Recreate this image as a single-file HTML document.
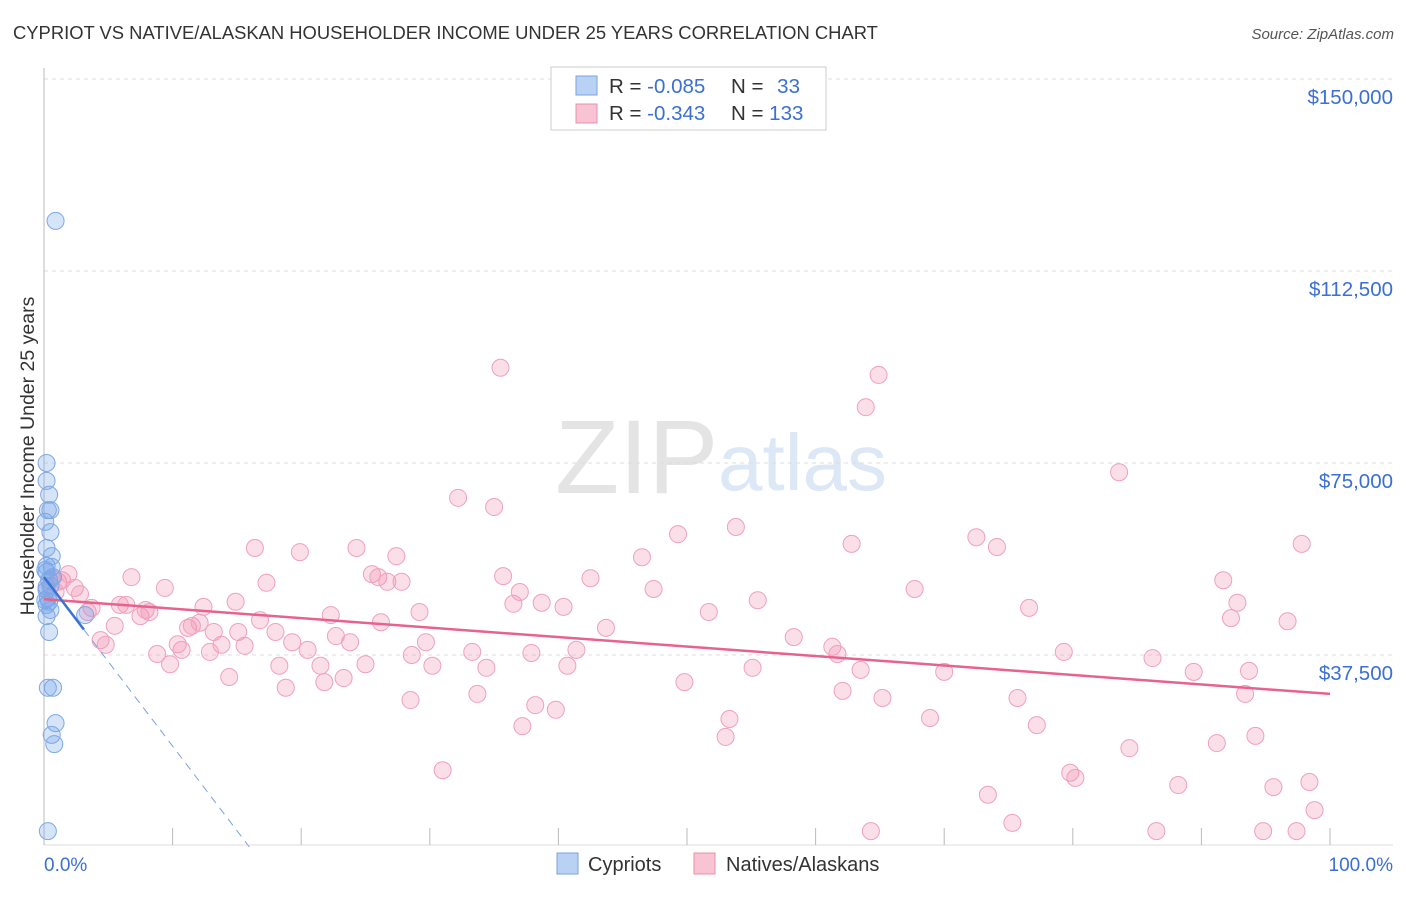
<!DOCTYPE html>
<html><head><meta charset="utf-8"><style>
body{margin:0;background:#fff;font-family:"Liberation Sans",sans-serif;}
svg text{font-family:"Liberation Sans",sans-serif;}
</style></head><body>
<svg id="chart" width="1406" height="892" xmlns="http://www.w3.org/2000/svg">
<text x="13" y="39" font-size="18.4" fill="#333">CYPRIOT VS NATIVE/ALASKAN HOUSEHOLDER INCOME UNDER 25 YEARS CORRELATION CHART</text>
<text x="1394" y="39" font-size="15" fill="#555" font-style="italic" text-anchor="end">Source: ZipAtlas.com</text>
<text x="555" y="493" font-size="105" fill="#e4e4e4" font-family="Liberation Serif">ZIP</text>
<text x="718" y="490" font-size="80" fill="#dce8f6">atlas</text>
<g id="grid"></g>
<line x1="44" y1="68" x2="44" y2="845" stroke="#bbb"/>
<line x1="44" y1="845" x2="1393" y2="845" stroke="#ddd"/>
<g id="xticks"></g>
<text x="0" y="0" transform="translate(34,456) rotate(-90)" font-size="19.5" fill="#333" text-anchor="middle">Householder Income Under 25 years</text>
<text x="44" y="871" font-size="19" fill="#3b6fd6">0.0%</text>
<text x="1393" y="871" font-size="19" fill="#3b6fd6" text-anchor="end">100.0%</text>
<g id="pinkPts"></g><g id="bluePts"></g><g id="trends"></g>
<g>
<rect x="551" y="67" width="275" height="63" fill="#fff" stroke="#ccc"/>
<rect x="576" y="76" width="21" height="19" fill="#b9d1f3" stroke="#7aa3e0"/>
<rect x="576" y="104" width="21" height="19" fill="#f8c3d3" stroke="#e890ad"/>
<text x="609" y="93" font-size="20.5" fill="#333">R = <tspan fill="#3b6fd6">-0.085</tspan></text>
<text x="731" y="93" font-size="20.5" fill="#333">N = <tspan fill="#3b6fd6" dx="8">33</tspan></text>
<text x="609" y="120" font-size="20.5" fill="#333">R = <tspan fill="#3b6fd6">-0.343</tspan></text>
<text x="731" y="120" font-size="20.5" fill="#333">N = <tspan fill="#3b6fd6">133</tspan></text>
</g>
<g>
<rect x="557" y="853" width="21" height="21" fill="#b9d1f3" stroke="#7aa3e0"/>
<text x="588" y="871" font-size="20" fill="#333">Cypriots</text>
<rect x="694" y="853" width="21" height="21" fill="#f8c3d3" stroke="#e890ad"/>
<text x="726" y="871" font-size="20" fill="#333">Natives/Alaskans</text>
</g>
</svg>
<script>
const yTicks=[37500,75000,112500,150000];
const yTickLabels=["$37,500","$75,000","$112,500","$150,000"];
const xTickVals=[0,10,20,30,40,50,60,70,80,90,100];
const blueX=[0.9,0.2,0.2,0.4,0.3,0.5,0.1,0.5,0.6,0.2,0.2,0.4,0.5,0.2,0.3,0.2,0.5,0.2,0.4,0.3,0.7,0.9,0.6,0.8,0.3,3.2,0.2,0.1,0.6,0.1,0.4,0.2,0.7];
const blueY=[122.3,75.0,71.5,68.8,65.8,65.8,63.5,61.5,56.8,54.9,53.7,52.1,51.0,50.2,48.6,47.3,46.3,45.1,42.0,31.1,31.1,24.2,21.9,20.1,3.1,45.3,58.4,54.1,54.7,48.2,47.9,50.8,52.7];
const pinkX=[0.2,0.6,1.1,1.4,1.9,0.9,2.4,2.8,3.4,3.7,4.4,4.8,5.5,5.9,6.4,6.8,7.5,7.9,8.2,8.8,9.4,9.8,10.4,10.7,11.2,11.5,12.1,12.4,12.9,13.2,13.8,14.4,14.9,15.1,15.6,16.4,16.8,17.3,18.0,18.3,18.8,19.3,19.9,20.5,21.5,21.8,22.3,22.7,23.3,23.8,24.3,25.0,25.5,26.0,26.2,26.7,27.4,27.8,28.5,28.6,29.2,29.7,30.2,31.0,32.2,33.3,33.7,34.4,35.0,35.5,35.7,36.5,37.0,37.2,37.9,38.2,38.7,39.8,40.4,40.7,41.4,42.5,43.7,46.5,47.4,49.3,49.8,51.7,53.0,53.3,53.8,55.1,55.5,58.3,61.3,61.7,62.1,62.8,63.5,63.9,64.3,64.9,65.2,67.7,68.9,70.0,72.5,73.4,74.1,75.3,75.7,76.6,77.2,79.3,79.8,80.2,83.6,84.4,86.2,86.5,88.2,89.4,91.2,91.7,92.3,92.8,93.4,93.7,94.2,94.8,95.6,96.7,97.4,97.8,98.4,98.8];
const pinkY=[50.2,52.5,51.8,52.1,53.3,49.8,50.6,49.4,45.9,46.7,40.4,39.5,43.2,47.3,47.3,52.7,45.1,46.3,45.9,37.7,50.6,35.7,39.6,38.5,42.8,43.2,43.8,46.9,38.1,42.0,39.5,33.2,47.9,42.0,39.3,58.4,44.3,51.6,42.0,35.4,31.1,40.0,57.6,38.5,35.4,32.2,45.3,41.2,33.0,40.0,58.4,35.7,53.3,52.7,43.9,51.8,56.8,51.8,28.7,37.5,45.9,40.0,35.4,15.0,68.2,38.1,29.9,35.0,66.4,93.6,52.9,47.5,49.8,23.6,37.9,27.7,47.7,26.8,46.9,35.4,38.5,52.5,42.8,56.6,50.4,61.1,32.2,45.9,21.5,25.0,62.5,35.0,48.2,41.0,39.1,37.7,30.5,59.2,34.6,85.9,3.1,92.2,29.1,50.4,25.2,34.2,60.5,10.2,58.6,4.7,29.1,46.7,23.8,38.1,14.5,13.5,73.2,19.3,36.9,3.1,12.1,34.2,20.3,52.1,44.7,47.7,29.9,34.4,21.7,3.1,11.7,44.1,3.1,59.2,12.7,7.2];
const pinkTrend=[48.4,29.9];   // $k at 0% and 100%
const blueTrend=[52.7,-3.3];  // $k intercept, slope per %
const NS="http://www.w3.org/2000/svg";
const X=p=>44+p*12.86;
const Y=k=>847-k*5.12;
function mk(tag,attrs,parent){const e=document.createElementNS(NS,tag);for(const k in attrs)e.setAttribute(k,attrs[k]);document.getElementById(parent).appendChild(e);return e;}
yTicks.forEach((v,i)=>{
  const y=Y(v/1000);
  const l=mk('line',{x1:44,x2:1393,y1:y,y2:y,stroke:'#ddd','stroke-dasharray':'4,4'},'grid');
  
  
  const t=mk('text',{x:1393,y:y+25,'font-size':20.5,fill:'#3b6fd6','text-anchor':'end'},'grid');
  t.textContent=yTickLabels[i];
  
  
});
xTickVals.forEach(v=>{
  const l=mk('line',{x1:X(v),x2:X(v),y1:828,y2:845,stroke:'#bbb'},'xticks');
  
  
});
pinkX.forEach((x,i)=>{
  const c=mk('circle',{cx:X(x),cy:Y(pinkY[i]),r:8.5,fill:'rgba(242,150,178,0.3)',stroke:'#f0a0bb','stroke-width':1},'pinkPts');
  
  
});
blueX.forEach((x,i)=>{
  const c=mk('circle',{cx:X(x),cy:Y(blueY[i]),r:8.5,fill:'rgba(120,165,235,0.3)',stroke:'#7fa8e4','stroke-width':1},'bluePts');
  
  
});
const pl=mk('line',{x1:X(0),y1:Y(pinkTrend[0]),x2:X(100),y2:Y(pinkTrend[1]),stroke:'#e8628e','stroke-width':2.5},'trends');


const bEnd=3.1, bZero=-blueTrend[0]/blueTrend[1];
const bl=mk('line',{x1:X(0),y1:Y(blueTrend[0]),x2:X(bEnd),y2:Y(blueTrend[0]+blueTrend[1]*bEnd),stroke:'#3a72d4','stroke-width':2.5},'trends');


const bd=mk('line',{x1:X(bEnd),y1:Y(blueTrend[0]+blueTrend[1]*bEnd),x2:X(bZero),y2:Y(0),stroke:'#7aa3e0','stroke-width':1,'stroke-dasharray':'8,6'},'trends');


</script>
</body></html>
